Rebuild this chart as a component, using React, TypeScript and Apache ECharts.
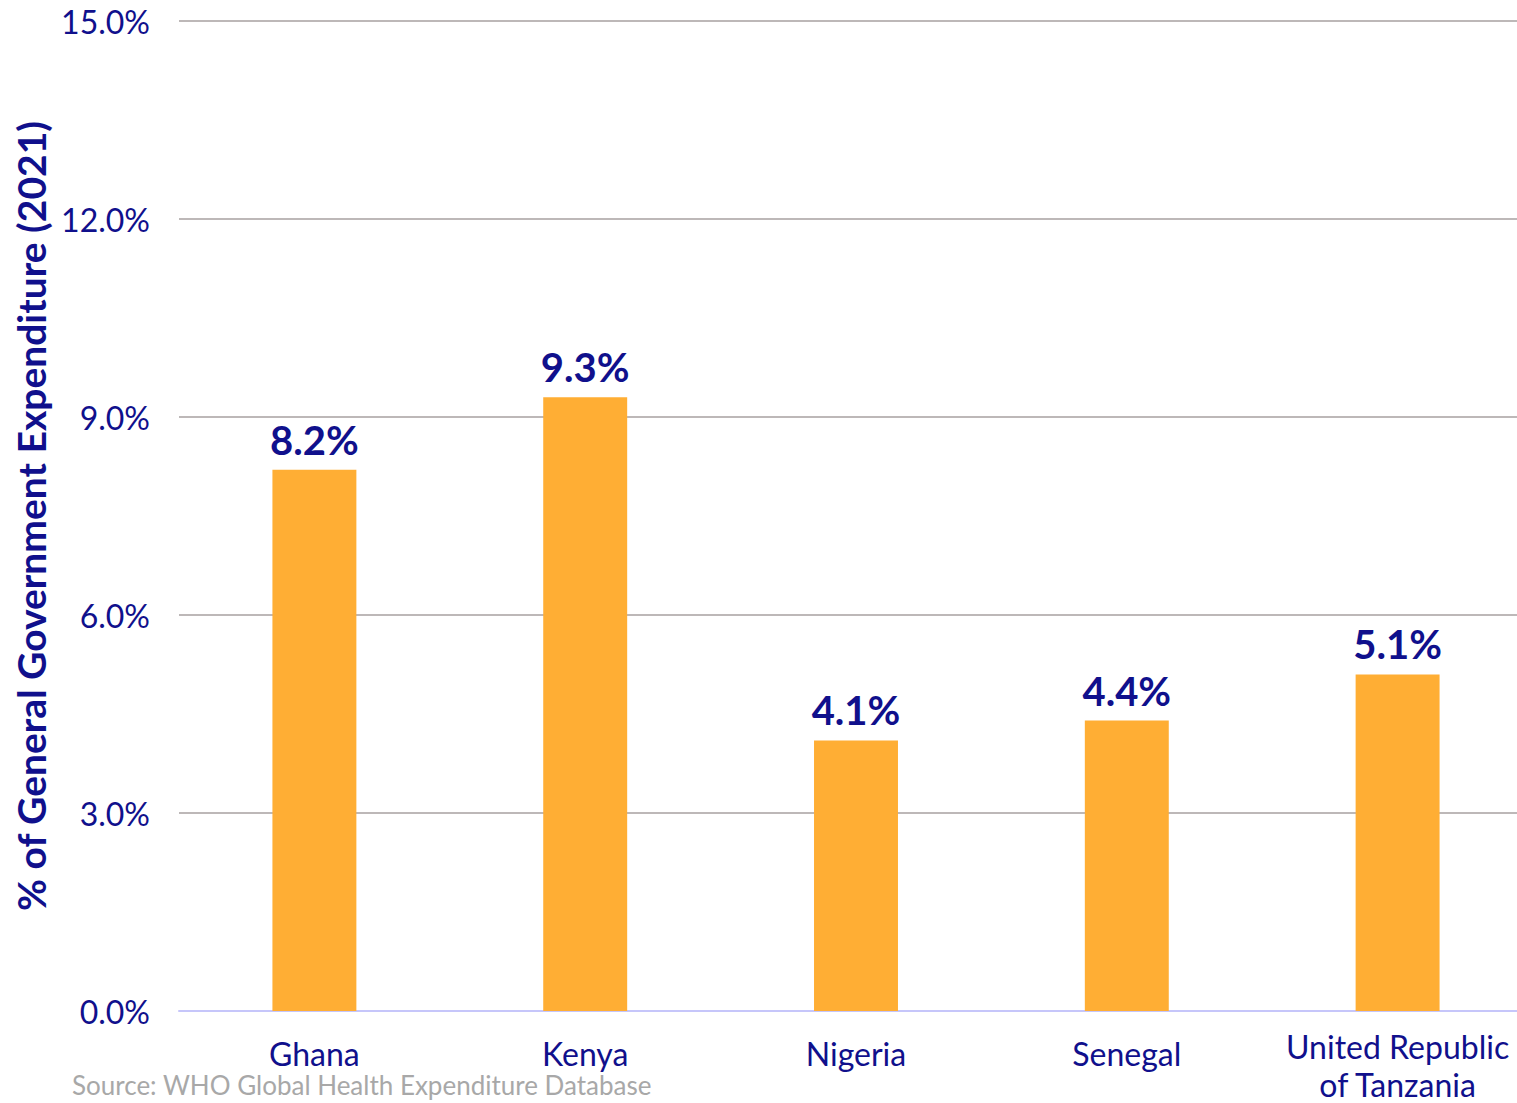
import React, { useEffect, useRef } from "react";
import * as echarts from "echarts";

const categories = ["Ghana", "Kenya", "Nigeria", "Senegal", "United Republic\nof Tanzania"];
const values = [8.2, 9.3, 4.1, 4.4, 5.1];
const yTicks = { min: 0, max: 15, interval: 3 };
const yAxisTitle = "% of General Government Expenditure (2021)";
const sourceNote = "Source: WHO Global Health Expenditure Database";

const NAVY = "#10108C";
const FONT = "Lato, 'Noto Sans', sans-serif";

export default function App() {
  const ref = useRef<HTMLDivElement>(null);
  useEffect(() => {
    if (!ref.current) return;
    const chart = echarts.init(ref.current, null, { renderer: "svg" });
    const catData = categories.map((c) =>
      c.includes("\n") ? { value: c, textStyle: { lineHeight: 38 } } : { value: c }
    );
    chart.setOption({
      animation: false,
      backgroundColor: "#ffffff",
      grid: {
        left: 179,
        right: -16,
        top: 21,
        bottom: 92,
        containLabel: false,
        outerBoundsMode: "none",
      },
      xAxis: {
        type: "category",
        data: catData,
        axisLine: { show: true, lineStyle: { color: "#C6C6FA", width: 2 } },
        axisTick: { show: false },
        axisLabel: {
          color: NAVY,
          fontFamily: FONT,
          fontSize: 32,
          margin: 16,
          lineHeight: 52,
          interval: 0,
        },
      },
      yAxis: {
        type: "value",
        min: yTicks.min,
        max: yTicks.max,
        interval: yTicks.interval,
        name: yAxisTitle,
        nameLocation: "middle",
        nameGap: 129,
        nameRotate: 90,
        nameTextStyle: {
          color: NAVY,
          fontFamily: FONT,
          fontSize: 39,
          fontWeight: "bold",
        },
        axisLine: { show: false },
        axisTick: { show: false },
        splitLine: { lineStyle: { color: "#BDB8B8", width: 2 } },
        axisLabel: {
          color: NAVY,
          fontFamily: FONT,
          fontSize: 32,
          margin: 29,
          formatter: (v: number) => v.toFixed(1) + "%",
        },
      },
      series: [
        {
          type: "bar",
          data: values,
          barWidth: "31%",
          itemStyle: { color: "#FFAE34" },
          label: {
            show: true,
            position: "top",
            distance: 10,
            color: NAVY,
            fontFamily: FONT,
            fontSize: 40,
            fontWeight: "bold",
            formatter: (p: any) => p.value.toFixed(1) + "%",
          },
        },
      ],
      graphic: [
        {
          type: "text",
          left: 72,
          top: 1072,
          style: {
            text: sourceNote,
            fill: "#A8A8A8",
            font: `26px ${FONT}`,
          },
        },
      ],
    });
    return () => chart.dispose();
  }, []);
  return (
    <div
      ref={ref}
      style={{ position: "absolute", left: 0, top: 0, width: 1517, height: 1103, overflow: "hidden" }}
    />
  );
}
